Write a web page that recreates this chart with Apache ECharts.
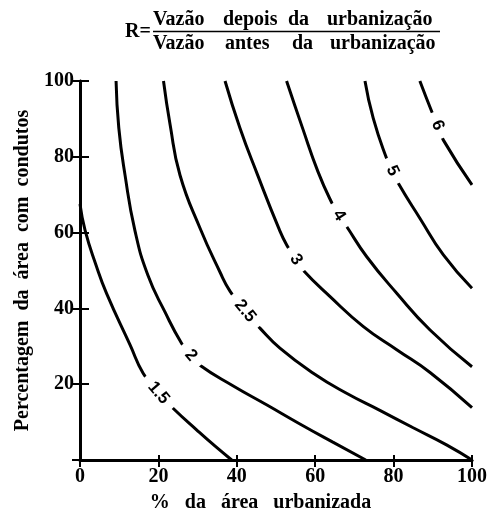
<!DOCTYPE html>
<html>
<head>
<meta charset="utf-8">
<script src="https://cdn.jsdelivr.net/npm/echarts@6/dist/echarts.min.js"></script>
<style>
  html, body { margin: 0; padding: 0; background: #fff; }
  #chart { width: 487px; height: 511px; }
</style>
</head>
<body>
<div id="chart"></div>
<script>
// Contour levels of R (ratio of discharge after / before urbanisation)
const levels = ['1.5', '2', '2.5', '3', '4', '5', '6'];

// Each contour: [% urbanised area, % area with conduits]
const curve1_5 = [[0, 67.5], [1.3, 60.6], [4.1, 51.4], [6.8, 43.9], [12.8, 30.3], [16.1, 22.9], [20.0, 17.7], [23.8, 13.6], [29.8, 7.9], [34.4, 3.7], [38.7, 0]];
const curve2   = [[9.2, 100], [9.9, 87.6], [11.5, 75.1], [14.0, 60.6], [17.3, 48.8], [21.7, 39.0], [25.9, 30.8], [28.3, 27.6], [30.6, 25.0], [39.0, 19.6], [47.7, 14.5], [56.1, 9.5], [64.5, 4.7], [72.9, 0]];
const curve2_5 = [[21.3, 100], [23.0, 88.4], [25.5, 75.2], [30.6, 61.2], [35.7, 49.6], [38.3, 44.5], [42.1, 39.3], [45.9, 34.8], [51.0, 29.5], [59.5, 22.9], [68.0, 17.6], [76.5, 13.1], [85.0, 8.5], [93.5, 4.0], [100, 0]];
const curve3   = [[37.0, 100], [40.8, 87.6], [45.2, 75.5], [50.8, 60.9], [52.8, 56.6], [55.1, 52.9], [57.0, 50.0], [63.8, 43.1], [72.3, 35.2], [80.8, 29.1], [89.3, 23.1], [100, 13.8]];
const curve4   = [[52.7, 100], [56.8, 87.5], [60.7, 76.1], [64.4, 67.5], [66.1, 64.5], [67.9, 61.8], [73.1, 53.7], [80.8, 44.0], [89.3, 34.3], [100, 24.6]];
const curve5   = [[72.7, 100], [74.8, 90.2], [78.2, 79.6], [79.7, 76.3], [81.2, 73.0], [86.7, 63.8], [92.7, 54.1], [100, 45.3]];
const curve6   = [[86.7, 100], [89.7, 92.0], [91.2, 88.3], [92.7, 84.4], [100, 72.6]];

const curves = [curve1_5, curve2, curve2_5, curve3, curve4, curve5, curve6];
// index of the point on each contour where its level is written
const labelIndex = [6, 7, 6, 5, 4, 3, 2];

// Axis ticks
const xTicks = [0, 20, 40, 60, 80, 100];
const yTicks = [0, 20, 40, 60, 80, 100];

const SERIF = '"Liberation Serif", "Times New Roman", serif';
const SANS = '"Liberation Sans", Arial, sans-serif';

const axisRange = (ticks) => ({ min: ticks[0], max: ticks[ticks.length - 1], interval: ticks[1] - ticks[0] });

const chart = echarts.init(document.getElementById('chart'), null, { renderer: 'canvas' });

const titleFont = 'bold 20px ' + SERIF;

const option = {
  animation: false,
  backgroundColor: '#fff',
  grid: { left: 80, right: 15, top: 81, bottom: 51, containLabel: false, outerBoundsMode: 'none' },
  xAxis: [
    Object.assign({
      type: 'value', position: 'bottom',
      name: '%   da   área   urbanizada',
      nameLocation: 'middle', nameGap: 33,
      nameTextStyle: { fontFamily: SERIF, fontWeight: 'bold', fontSize: 20, color: '#000', padding: [0, 31, 0, 0] },
      axisLine: { show: true, lineStyle: { color: '#000', width: 3 } },
      axisTick: { show: true, inside: true, length: 5, lineStyle: { color: '#000', width: 2 } },
      axisLabel: { fontFamily: SERIF, fontWeight: 'bold', fontSize: 20, color: '#000', margin: 7 },
      splitLine: { show: false }
    }, axisRange(xTicks)),
    Object.assign({
      type: 'value', position: 'bottom',
      axisLine: { show: false },
      axisTick: { show: true, inside: false, length: 5, lineStyle: { color: '#000', width: 2 } },
      axisLabel: { show: false },
      splitLine: { show: false }
    }, axisRange(xTicks)),
    Object.assign({
      type: 'value', position: 'top',
      axisLine: { show: true, lineStyle: { color: '#000', width: 2.5 } },
      axisTick: { show: true, inside: true, length: 7, lineStyle: { color: '#000', width: 2 } },
      axisLabel: { show: false },
      splitLine: { show: false }
    }, axisRange(xTicks))
  ],
  yAxis: [
    Object.assign({
      type: 'value', position: 'left',
      name: 'Percentagem  da  área  com  condutos',
      nameLocation: 'middle', nameGap: 40,
      nameTextStyle: { fontFamily: SERIF, fontWeight: 'bold', fontSize: 20, color: '#000' },
      axisLine: { show: true, lineStyle: { color: '#000', width: 3 } },
      axisTick: { show: true, inside: true, length: 9, lineStyle: { color: '#000', width: 2 } },
      axisLabel: {
        fontFamily: SERIF, fontWeight: 'bold', fontSize: 20, color: '#000', margin: 6,
        formatter: (v) => (v === 0 ? '' : String(v))
      },
      splitLine: { show: false }
    }, axisRange(yTicks)),
    Object.assign({
      type: 'value', position: 'left',
      axisLine: { show: false },
      axisTick: { show: true, inside: false, length: 4, lineStyle: { color: '#000', width: 2 } },
      axisLabel: { show: false },
      splitLine: { show: false }
    }, axisRange(yTicks)),
    Object.assign({
      type: 'value', position: 'right',
      axisLine: { show: true, lineStyle: { color: '#000', width: 2.5 } },
      axisTick: { show: true, inside: true, length: 8, lineStyle: { color: '#000', width: 2 } },
      axisLabel: { show: false },
      splitLine: { show: false }
    }, axisRange(yTicks))
  ],
  graphic: [
    { type: 'text', left: 125, top: 22, style: { text: 'R=', font: titleFont, fill: '#000' } },
    { type: 'text', left: 153, top: 10, style: { text: 'Vazão', font: titleFont, fill: '#000' } },
    { type: 'text', left: 223, top: 10, style: { text: 'depois', font: titleFont, fill: '#000' } },
    { type: 'text', left: 288, top: 10, style: { text: 'da', font: titleFont, fill: '#000' } },
    { type: 'text', left: 327, top: 10, style: { text: 'urbanização', font: titleFont, fill: '#000' } },
    { type: 'line', shape: { x1: 153, y1: 31.5, x2: 440, y2: 31.5 }, style: { stroke: '#000', lineWidth: 1.5 } },
    { type: 'text', left: 153, top: 34, style: { text: 'Vazão', font: titleFont, fill: '#000' } },
    { type: 'text', left: 225, top: 34, style: { text: 'antes', font: titleFont, fill: '#000' } },
    { type: 'text', left: 292, top: 34, style: { text: 'da', font: titleFont, fill: '#000' } },
    { type: 'text', left: 330, top: 34, style: { text: 'urbanização', font: titleFont, fill: '#000' } }
  ],
  series: curves.map((c, i) => ({
    name: levels[i],
    type: 'line',
    xAxisIndex: 0, yAxisIndex: 0,
    data: c,
    smooth: 0.5,
    symbol: 'none',
    lineStyle: { color: '#000', width: 3 },
    z: 2
  }))
};

chart.setOption(option);

// Write each level on its contour, turned along the local direction of the line
const labelSeries = curves.map((c, i) => {
  const k = labelIndex[i];
  const a = chart.convertToPixel({ seriesIndex: i }, c[k - 1]);
  const b = chart.convertToPixel({ seriesIndex: i }, c[k + 1]);
  const ang = Math.atan2(b[1] - a[1], b[0] - a[0]) * 180 / Math.PI;
  return {
    name: 'label ' + levels[i],
    type: 'scatter',
    xAxisIndex: 0, yAxisIndex: 0,
    data: [c[k]],
    symbolSize: 1,
    itemStyle: { color: '#fff', opacity: 1 },
    z: 10,
    label: {
      show: true,
      position: 'inside',
      formatter: levels[i],
      rotate: -ang,
      fontFamily: SANS,
      fontWeight: 'bold',
      fontSize: 17,
      color: '#000',
      opacity: 1,
      textBorderWidth: 0,
      backgroundColor: '#fff',
      padding: [1, 9]
    }
  };
});

chart.setOption({ series: option.series.concat(labelSeries) });
</script>
</body>
</html>
